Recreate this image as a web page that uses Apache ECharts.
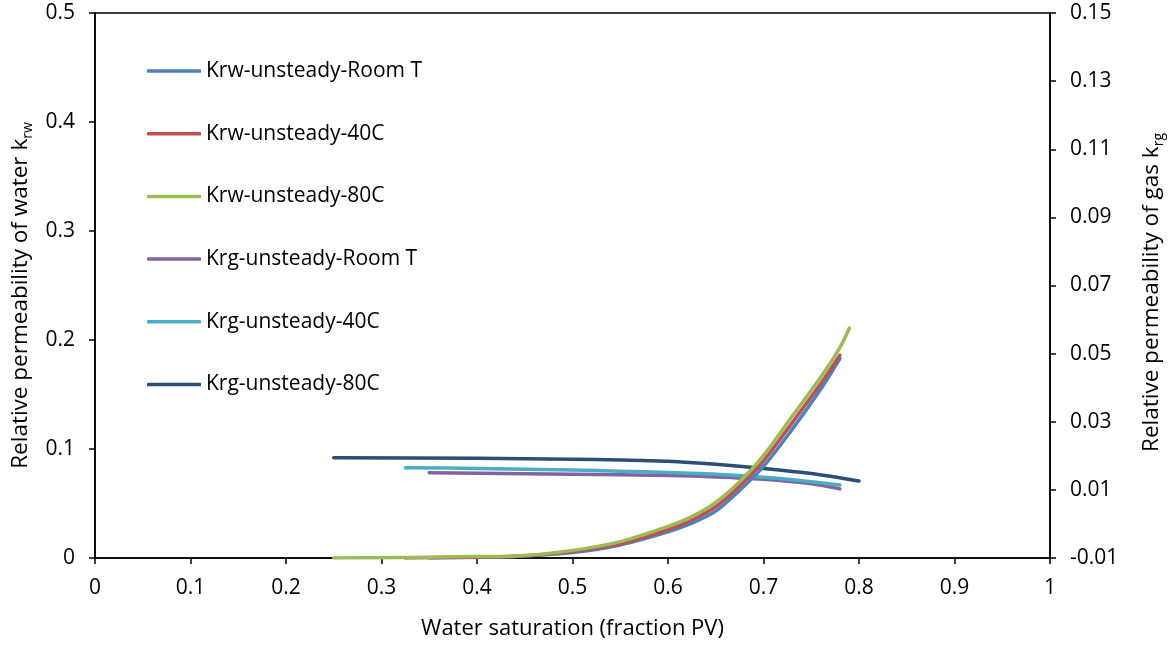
<!DOCTYPE html>
<html>
<head>
<meta charset="utf-8">
<script src="https://cdn.jsdelivr.net/npm/echarts@6/dist/echarts.min.js"></script>
<style>
  html, body { margin: 0; padding: 0; background: #fff; }
  #chart { width: 1169px; height: 646px; }
</style>
</head>
<body>
<div id="chart"></div>
<script>
// Water relative permeability (left axis), x = water saturation
const krwRoomX = [0.35, 0.40, 0.44, 0.50, 0.55, 0.60, 0.625, 0.65, 0.675, 0.70, 0.73, 0.76, 0.78];
const krwRoomY = [0, 0.0007, 0.0013, 0.005, 0.012, 0.024, 0.032, 0.043, 0.062, 0.084, 0.118, 0.155, 0.183];

const krw40X = [0.325, 0.40, 0.44, 0.50, 0.55, 0.60, 0.625, 0.65, 0.675, 0.70, 0.73, 0.76, 0.78];
const krw40Y = [0, 0.0008, 0.0015, 0.006, 0.013, 0.026, 0.035, 0.047, 0.066, 0.089, 0.124, 0.160, 0.186];

const krw80X = [0.25, 0.30, 0.35, 0.40, 0.44, 0.50, 0.55, 0.60, 0.625, 0.65, 0.675, 0.70, 0.73, 0.76, 0.78, 0.79];
const krw80Y = [0, 0.0003, 0.0008, 0.0013, 0.0018, 0.007, 0.015, 0.029, 0.038, 0.051, 0.070, 0.094, 0.130, 0.166, 0.193, 0.211];

// Gas relative permeability (right axis)
const krgRoomX = [0.35, 0.40, 0.50, 0.60, 0.65, 0.70, 0.75, 0.78];
const krgRoomY = [0.0150, 0.0149, 0.0146, 0.0142, 0.0138, 0.0131, 0.0118, 0.0103];

const krg40X = [0.325, 0.40, 0.50, 0.55, 0.60, 0.65, 0.70, 0.75, 0.78];
const krg40Y = [0.0165, 0.0163, 0.0158, 0.0155, 0.0151, 0.0146, 0.0137, 0.0124, 0.0114];

const krg80X = [0.25, 0.40, 0.50, 0.55, 0.60, 0.65, 0.70, 0.75, 0.80];
const krg80Y = [0.0194, 0.0193, 0.0190, 0.0188, 0.0184, 0.0175, 0.0163, 0.0148, 0.0126];

// Axis ticks
const xTicks = { min: 0, max: 1, interval: 0.1 };
const krwTicks = { min: 0, max: 0.5, interval: 0.1 };
const krgTicks = { min: -0.01, max: 0.15, interval: 0.02 };

const seriesNames = [
  'Krw-unsteady-Room T', 'Krw-unsteady-40C', 'Krw-unsteady-80C',
  'Krg-unsteady-Room T', 'Krg-unsteady-40C', 'Krg-unsteady-80C'
];
const seriesColors = ['#4F81BD', '#C0504D', '#9BBB59', '#8064A2', '#4BACC6', '#2C4D75'];

const zip = (xs, ys) => xs.map((x, i) => [x, ys[i]]);
const curves = [
  { x: krwRoomX, y: krwRoomY, axis: 0 },
  { x: krw40X, y: krw40Y, axis: 0 },
  { x: krw80X, y: krw80Y, axis: 0 },
  { x: krgRoomX, y: krgRoomY, axis: 1 },
  { x: krg40X, y: krg40Y, axis: 1 },
  { x: krg80X, y: krg80Y, axis: 1 }
];

const FONT = 'Open Sans';
const axisBase = {
  axisLine: { show: true, onZero: false, lineStyle: { color: '#000', width: 1.5 } },
  axisTick: { show: true, inside: false, length: 6, lineStyle: { color: '#000', width: 1.5 } },
  splitLine: { show: false },
  axisLabel: { color: '#000', fontFamily: FONT, fontSize: 21, margin: 20 }
};
const subStyle = { fontFamily: FONT, fontSize: 14, color: '#000', padding: [14, 0, 0, 0], verticalAlign: 'bottom' };

const chart = echarts.init(document.getElementById('chart'), null, { renderer: 'canvas' });
chart.setOption({
  backgroundColor: '#fff',
  animation: false,
  grid: {
    left: 95, right: 119, top: 13, bottom: 88,
    containLabel: false,
    outerBoundsMode: 'none',
    show: true, borderColor: '#000', borderWidth: 1.5, backgroundColor: 'transparent'
  },
  legend: {
    orient: 'vertical',
    left: 147, top: 60,
    padding: 0,
    icon: 'roundRect',
    itemWidth: 54, itemHeight: 3.5, itemGap: 40.7,
    data: seriesNames,
    textStyle: { color: '#000', fontFamily: FONT, fontSize: 21, lineHeight: 22 }
  },
  xAxis: {
    type: 'value',
    min: xTicks.min, max: xTicks.max, interval: xTicks.interval,
    name: 'Water saturation (fraction PV)',
    nameLocation: 'middle', nameGap: 60,
    nameTextStyle: { color: '#000', fontFamily: FONT, fontSize: 22 },
    ...axisBase
  },
  yAxis: [
    {
      type: 'value', position: 'left',
      min: krwTicks.min, max: krwTicks.max, interval: krwTicks.interval,
      name: 'Relative permeability of water k{sub|rw}',
      nameLocation: 'middle', nameRotate: 90, nameGap: 60,
      nameTextStyle: {
        color: '#000', fontFamily: FONT, fontSize: 22.5,
        padding: [0, 20, 0, 0], rich: { sub: subStyle }
      },
      ...axisBase
    },
    {
      type: 'value', position: 'right',
      min: krgTicks.min, max: krgTicks.max, interval: krgTicks.interval,
      name: 'Relative permeability of gas k{sub|rg}',
      nameLocation: 'middle', nameRotate: 90, nameGap: 88,
      nameTextStyle: {
        color: '#000', fontFamily: FONT, fontSize: 22.5,
        padding: [0, 14, 0, 0], rich: { sub: subStyle }
      },
      ...axisBase,
      axisLabel: { ...axisBase.axisLabel, formatter: v => v.toFixed(2) }
    }
  ],
  series: curves.map((c, i) => ({
    name: seriesNames[i],
    type: 'line',
    yAxisIndex: c.axis,
    data: zip(c.x, c.y),
    symbol: 'none',
    smooth: 0.3,
    z: c.axis === 0 ? 3 : 2,
    color: seriesColors[i],
    lineStyle: { color: seriesColors[i], width: 3.5, cap: 'round', join: 'round' }
  }))
});
</script>
</body>
</html>
